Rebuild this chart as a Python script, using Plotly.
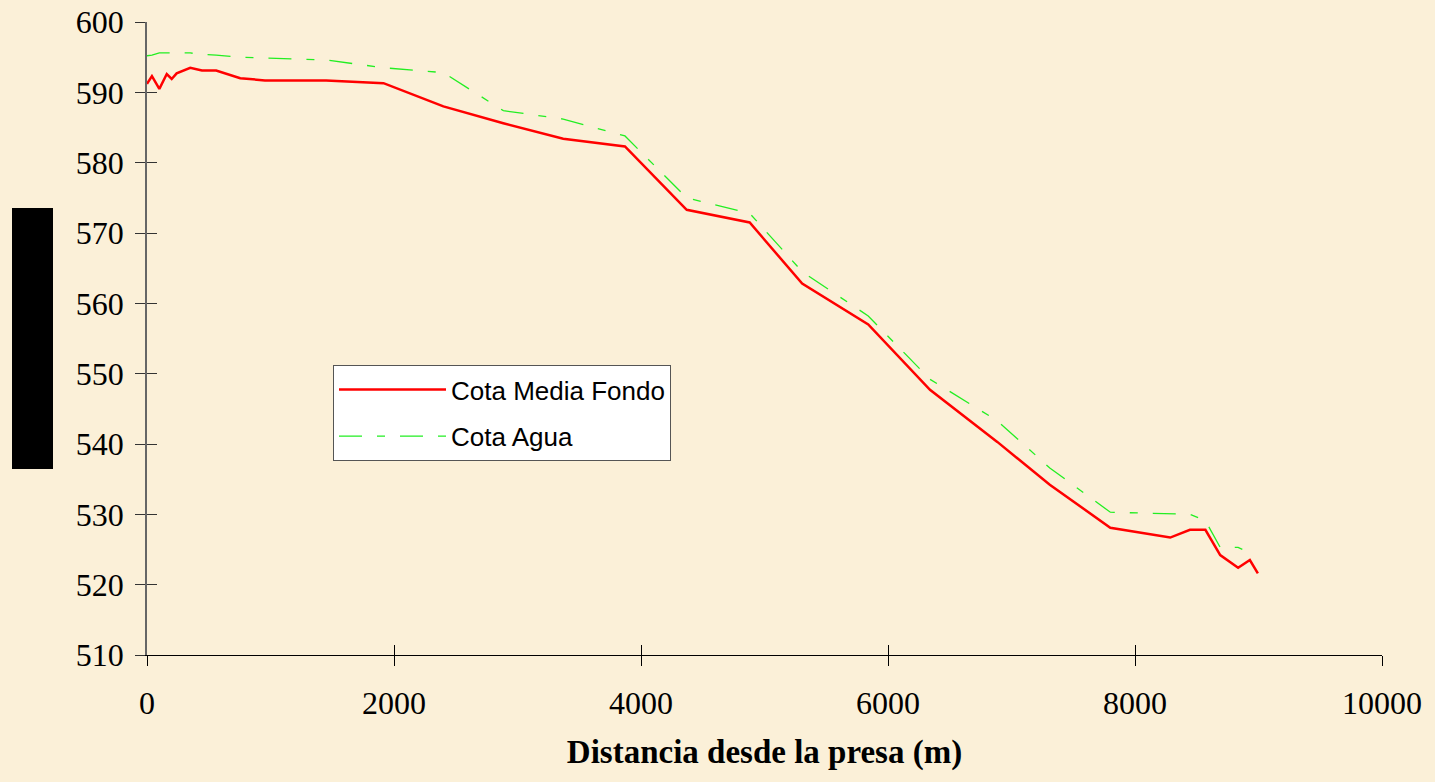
import plotly.graph_objects as go

# Distance from the dam (m)
distancia = [0, 40, 100, 160, 200, 240, 350, 445, 560, 755, 955, 1450, 1915, 2400,
             2885, 3370, 3870, 4370, 4880, 5305, 5840, 6340, 6885, 7310, 7800, 8285,
             8445, 8570, 8690, 8835, 8930, 8995]

cota_media_fondo = [591.2, 592.3, 590.5, 592.6, 591.9, 592.7, 593.5, 593.1, 593.1, 592.0,
                    591.7, 591.7, 591.3, 588.0, 585.6, 583.4, 582.3, 573.3, 571.5, 562.8,
                    557.0, 547.7, 540.3, 534.2, 528.1, 526.7, 527.8, 527.8, 524.2, 522.4,
                    523.5, 521.6]

cota_agua = [595.2, 595.3, 595.6, 595.6, 595.6, 595.6, 595.6, 595.4, 595.3, 595.0,
             594.9, 594.6, 593.5, 592.8, 587.4, 586.2, 583.8, 575.0, 572.8, 564.5,
             558.2, 549.2, 543.3, 536.6, 530.3, 530.0, 530.0, 529.1, 525.3, 525.3,
             524.5, None]

x_ticks = [0, 2000, 4000, 6000, 8000, 10000]
y_ticks = [510, 520, 530, 540, 550, 560, 570, 580, 590, 600]

BG = "#FBF0D8"

fig = go.Figure()
fig.add_trace(go.Scatter(x=distancia, y=cota_media_fondo, mode="lines",
                         name="Cota Media Fondo", legendgroup="a",
                         line=dict(color="#FF0000", width=2.5)))
fig.add_trace(go.Scatter(x=distancia, y=cota_agua, mode="lines",
                         name="Cota Agua", legendgroup="b",
                         line=dict(color="#22EE22", width=1.3, dash="23px,15px,8px,15px")))
# empty helper trace so the overlay axes (inner half of the crossing ticks) are drawn
fig.add_trace(go.Scatter(x=[], y=[], xaxis="x2", yaxis="y2", showlegend=False,
                         hoverinfo="skip", mode="lines"))

L, R, T, B = 147, 53, 22, 127
W, H = 1435, 782
pw, ph = W - L - R, H - T - B

def px_x(px):
    return (px - L) / pw

def px_y(py):
    return (H - B - py) / ph

serif = "Liberation Serif, Times New Roman, serif"

fig.update_layout(
    width=W, height=H,
    margin=dict(l=L, r=R, t=T, b=B, pad=0, autoexpand=False),
    paper_bgcolor=BG, plot_bgcolor=BG,
    showlegend=True,
    legend=dict(x=px_x(333), y=px_y(365), xanchor="left", yanchor="top",
                bgcolor="white", bordercolor="#555555", borderwidth=1,
                font=dict(family="Liberation Sans, Arial", size=26, color="black"),
                itemwidth=107, tracegroupgap=10, traceorder="grouped"),
    xaxis=dict(range=[0, 10000], tickvals=x_ticks, ticktext=[str(v) for v in x_ticks],
               showgrid=False, zeroline=False, showline=True, linecolor="black", linewidth=1,
               ticks="outside", ticklen=10, tickcolor="black", tickwidth=1,
               tickfont=dict(family=serif, size=32, color="black"),
               ticklabelstandoff=10, automargin=False,
               title=dict(text="<b>Distancia desde la presa (m)</b>",
                          font=dict(family=serif, size=33, color="black"),
                          standoff=19)),
    yaxis=dict(range=[510, 600], tickvals=y_ticks, ticktext=[str(v) for v in y_ticks],
               showgrid=False, zeroline=False, showline=True, linecolor="#666666", linewidth=1.5,
               ticks="outside", ticklen=10, tickcolor="#333333", tickwidth=1,
               tickfont=dict(family=serif, size=32, color="black"),
               ticklabelstandoff=5, automargin=False),
    xaxis2=dict(range=[0, 10000], tickvals=x_ticks, overlaying="x", anchor="y2", side="bottom",
                showticklabels=False, showgrid=False, zeroline=False, showline=False,
                ticks="inside", ticklen=10, tickcolor="black", tickwidth=1, automargin=False),
    yaxis2=dict(range=[510, 600], tickvals=y_ticks, overlaying="y", anchor="x2", side="left",
                showticklabels=False, showgrid=False, zeroline=False, showline=False,
                ticks="inside", ticklen=10, tickcolor="#333333", tickwidth=1, automargin=False),
    shapes=[dict(type="rect", xref="paper", yref="paper",
                 x0=px_x(12), x1=px_x(53), y0=px_y(469), y1=px_y(208),
                 fillcolor="black", line=dict(width=0), layer="above")],
)

fig.write_html("out.html", config={"displayModeBar": False},
               post_script="document.body.style.margin='0';document.body.style.background='%s';" % BG)
